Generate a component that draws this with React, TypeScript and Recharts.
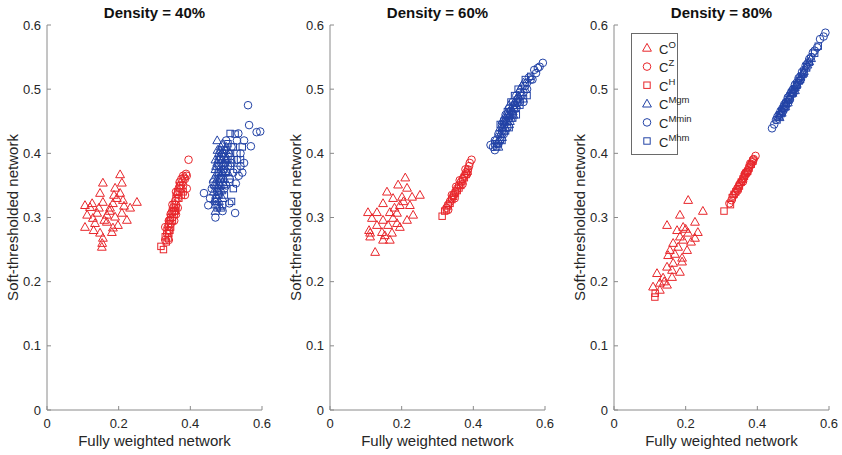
import React from 'react';
import { ScatterChart, Scatter, XAxis, YAxis, Label } from 'recharts';

type Pair = [number, number];

const FONT = '"Liberation Sans", Arial, Helvetica, sans-serif';
const RED = '#e8262b';
const BLUE = '#2343a6';
const AXIS = '#8a8a8a';
const TXT = '#262626';

const xTicks = [0, 0.2, 0.4, 0.6];
const yTicks = [0, 0.1, 0.2, 0.3, 0.4, 0.5, 0.6];
const titles = ['Density = 40%', 'Density = 60%', 'Density = 80%'];
const xLabel = 'Fully weighted network';
const yLabel = 'Soft-thresholded network';
const seriesNames = ['O', 'Z', 'H', 'Mgm', 'Mmin', 'Mhm'];

// ---------- Density = 40% ----------
const d40_O: Pair[] = [
  [0.156, 0.354], [0.209, 0.354], [0.190, 0.346], [0.148, 0.338], [0.204, 0.338], [0.106, 0.319],
  [0.126, 0.322], [0.156, 0.324], [0.184, 0.322], [0.251, 0.324], [0.232, 0.315], [0.176, 0.315],
  [0.112, 0.304], [0.140, 0.307], [0.167, 0.304], [0.209, 0.307], [0.223, 0.296], [0.106, 0.285],
  [0.134, 0.291], [0.167, 0.293], [0.184, 0.284], [0.198, 0.288], [0.148, 0.276], [0.181, 0.277],
  [0.154, 0.260], [0.156, 0.268], [0.128, 0.299], [0.190, 0.301], [0.212, 0.327], [0.195, 0.330],
  [0.204, 0.367], [0.120, 0.316], [0.145, 0.315], [0.175, 0.310], [0.160, 0.296], [0.215, 0.318],
  [0.130, 0.280], [0.187, 0.335], [0.153, 0.254],
];
const d40_Z: Pair[] = [
  [0.330, 0.265], [0.340, 0.280], [0.345, 0.290], [0.350, 0.300], [0.355, 0.310], [0.360, 0.320],
  [0.365, 0.330], [0.370, 0.340], [0.375, 0.345], [0.380, 0.350], [0.385, 0.360], [0.390, 0.365],
  [0.395, 0.390], [0.390, 0.345], [0.385, 0.335], [0.370, 0.355], [0.360, 0.340], [0.350, 0.320],
  [0.345, 0.305], [0.340, 0.295], [0.335, 0.275], [0.330, 0.285], [0.380, 0.365], [0.375, 0.360],
  [0.365, 0.315], [0.355, 0.295], [0.360, 0.305], [0.340, 0.265], [0.338, 0.286], [0.343, 0.296],
  [0.348, 0.308], [0.353, 0.316], [0.358, 0.326], [0.363, 0.336], [0.368, 0.346], [0.373, 0.350],
  [0.378, 0.356], [0.383, 0.362], [0.388, 0.368],
];
const d40_H: Pair[] = [
  [0.318, 0.255], [0.325, 0.250], [0.330, 0.270], [0.335, 0.280], [0.340, 0.290], [0.345, 0.300],
  [0.350, 0.310], [0.355, 0.320], [0.360, 0.330], [0.365, 0.340], [0.370, 0.350], [0.345, 0.285],
  [0.350, 0.295], [0.355, 0.305], [0.360, 0.315], [0.375, 0.335], [0.380, 0.340], [0.340, 0.275],
  [0.333, 0.262], [0.338, 0.268], [0.343, 0.280], [0.358, 0.310], [0.368, 0.330],
];
const d40_Mgm: Pair[] = [
  [0.470, 0.320], [0.475, 0.330], [0.480, 0.340], [0.470, 0.350], [0.475, 0.360], [0.480, 0.370],
  [0.485, 0.380], [0.490, 0.390], [0.480, 0.400], [0.485, 0.410], [0.475, 0.420], [0.495, 0.400],
  [0.490, 0.370], [0.485, 0.350], [0.480, 0.325], [0.470, 0.310], [0.465, 0.340], [0.465, 0.360],
  [0.470, 0.375], [0.475, 0.385], [0.480, 0.395], [0.490, 0.355], [0.495, 0.380], [0.500, 0.390],
  [0.500, 0.410], [0.485, 0.365], [0.480, 0.355], [0.475, 0.345], [0.470, 0.390], [0.490, 0.330],
  [0.495, 0.360], [0.505, 0.370], [0.510, 0.400], [0.490, 0.415], [0.485, 0.315], [0.472, 0.335],
  [0.478, 0.348], [0.482, 0.362], [0.488, 0.372], [0.492, 0.385], [0.478, 0.390], [0.483, 0.405],
  [0.493, 0.395], [0.468, 0.328], [0.473, 0.368], [0.487, 0.342], [0.497, 0.372], [0.503, 0.392],
  [0.498, 0.405], [0.476, 0.405], [0.482, 0.318], [0.467, 0.352], [0.488, 0.400], [0.472, 0.380],
  [0.494, 0.352],
];
const d40_Mmin: Pair[] = [
  [0.438, 0.338], [0.450, 0.319], [0.464, 0.355], [0.455, 0.330], [0.460, 0.345], [0.470, 0.300],
  [0.490, 0.310], [0.509, 0.322], [0.525, 0.307], [0.527, 0.353], [0.520, 0.370], [0.515, 0.385],
  [0.530, 0.390], [0.540, 0.400], [0.550, 0.385], [0.545, 0.370], [0.534, 0.431], [0.530, 0.420],
  [0.550, 0.420], [0.569, 0.411], [0.564, 0.444], [0.561, 0.475], [0.585, 0.433], [0.595, 0.434],
  [0.500, 0.350], [0.505, 0.380], [0.510, 0.360], [0.495, 0.345], [0.485, 0.360], [0.480, 0.380],
  [0.490, 0.400], [0.500, 0.420], [0.515, 0.410], [0.540, 0.380], [0.475, 0.340], [0.535, 0.365],
];
const d40_Mhm: Pair[] = [
  [0.511, 0.431], [0.525, 0.430], [0.520, 0.410], [0.530, 0.400], [0.515, 0.390], [0.505, 0.395],
  [0.500, 0.370], [0.510, 0.355], [0.520, 0.345], [0.515, 0.325], [0.490, 0.320], [0.475, 0.315],
  [0.480, 0.335], [0.495, 0.335], [0.540, 0.390], [0.545, 0.410], [0.530, 0.375], [0.485, 0.390],
  [0.495, 0.405], [0.505, 0.415], [0.470, 0.325], [0.487, 0.360], [0.493, 0.375], [0.498, 0.385],
  [0.478, 0.370], [0.508, 0.400], [0.512, 0.380],
];

// ---------- Density = 60% ----------
const d60_O: Pair[] = [
  [0.190, 0.351], [0.215, 0.346], [0.159, 0.340], [0.229, 0.332], [0.251, 0.335], [0.201, 0.332],
  [0.176, 0.330], [0.148, 0.322], [0.195, 0.319], [0.223, 0.319], [0.106, 0.308], [0.131, 0.308],
  [0.167, 0.308], [0.187, 0.307], [0.232, 0.304], [0.117, 0.299], [0.148, 0.296], [0.176, 0.299],
  [0.215, 0.296], [0.131, 0.288], [0.162, 0.288], [0.195, 0.285], [0.112, 0.276], [0.145, 0.277],
  [0.173, 0.276], [0.148, 0.265], [0.167, 0.265], [0.126, 0.246], [0.153, 0.272], [0.187, 0.291],
  [0.109, 0.280], [0.112, 0.270], [0.210, 0.362], [0.205, 0.325], [0.180, 0.315],
];
const d60_Z: Pair[] = [
  [0.325, 0.315], [0.330, 0.320], [0.335, 0.325], [0.340, 0.330], [0.345, 0.335], [0.350, 0.340],
  [0.355, 0.345], [0.360, 0.350], [0.365, 0.355], [0.370, 0.360], [0.375, 0.365], [0.380, 0.370],
  [0.385, 0.375], [0.390, 0.385], [0.395, 0.390], [0.352, 0.348], [0.348, 0.330], [0.362, 0.358],
  [0.370, 0.352], [0.378, 0.375], [0.383, 0.368], [0.388, 0.380], [0.340, 0.335], [0.330, 0.312],
];
const d60_H: Pair[] = [
  [0.313, 0.302], [0.320, 0.310], [0.325, 0.312], [0.330, 0.318], [0.335, 0.322], [0.340, 0.328],
  [0.345, 0.333], [0.350, 0.338], [0.355, 0.342], [0.360, 0.346], [0.365, 0.350], [0.370, 0.357],
  [0.375, 0.362], [0.380, 0.367], [0.385, 0.372],
];
const d60_Mgm: Pair[] = [
  [0.470, 0.420], [0.475, 0.430], [0.480, 0.440], [0.485, 0.445], [0.490, 0.455], [0.495, 0.460],
  [0.500, 0.465], [0.505, 0.470], [0.510, 0.475], [0.515, 0.480], [0.520, 0.485], [0.525, 0.490],
  [0.530, 0.500], [0.485, 0.435], [0.490, 0.440], [0.495, 0.450], [0.500, 0.445], [0.505, 0.455],
  [0.510, 0.465], [0.480, 0.425], [0.475, 0.440], [0.470, 0.410], [0.465, 0.425], [0.500, 0.475],
  [0.515, 0.470], [0.535, 0.505], [0.540, 0.510], [0.500, 0.460], [0.478, 0.432], [0.483, 0.440],
  [0.488, 0.448], [0.493, 0.452], [0.498, 0.458], [0.503, 0.462], [0.508, 0.468], [0.513, 0.472],
  [0.518, 0.478], [0.523, 0.482], [0.528, 0.488], [0.473, 0.422], [0.482, 0.452], [0.492, 0.462],
  [0.502, 0.450], [0.512, 0.460], [0.520, 0.475], [0.545, 0.500],
];
const d60_Mmin: Pair[] = [
  [0.594, 0.541], [0.580, 0.533], [0.570, 0.530], [0.565, 0.515], [0.555, 0.518], [0.550, 0.500],
  [0.545, 0.505], [0.540, 0.495], [0.535, 0.490], [0.530, 0.480], [0.525, 0.485], [0.520, 0.470],
  [0.515, 0.475], [0.510, 0.460], [0.505, 0.465], [0.500, 0.455], [0.495, 0.440], [0.490, 0.450],
  [0.485, 0.430], [0.480, 0.435], [0.475, 0.420], [0.470, 0.430], [0.465, 0.415], [0.460, 0.420],
  [0.455, 0.410], [0.448, 0.413], [0.460, 0.405], [0.540, 0.480], [0.530, 0.495], [0.520, 0.490],
  [0.470, 0.415], [0.480, 0.445], [0.490, 0.460], [0.500, 0.470], [0.510, 0.480], [0.550, 0.510],
  [0.560, 0.515], [0.575, 0.525], [0.585, 0.535],
];
const d60_Mhm: Pair[] = [
  [0.465, 0.410], [0.470, 0.415], [0.480, 0.420], [0.490, 0.435], [0.500, 0.440], [0.510, 0.455],
  [0.520, 0.460], [0.530, 0.475], [0.540, 0.485], [0.550, 0.490], [0.485, 0.450], [0.495, 0.465],
  [0.505, 0.480], [0.515, 0.490], [0.525, 0.500], [0.545, 0.515], [0.560, 0.520], [0.475, 0.445],
  [0.460, 0.415],
];

// ---------- Density = 80% ----------
const d80_O: Pair[] = [
  [0.207, 0.327], [0.248, 0.310], [0.184, 0.304], [0.148, 0.288], [0.226, 0.293], [0.176, 0.280],
  [0.193, 0.285], [0.234, 0.277], [0.207, 0.276], [0.184, 0.270], [0.226, 0.268], [0.156, 0.249],
  [0.179, 0.254], [0.204, 0.249], [0.151, 0.241], [0.190, 0.237], [0.165, 0.229], [0.148, 0.223],
  [0.190, 0.231], [0.162, 0.218], [0.184, 0.215], [0.120, 0.213], [0.137, 0.206], [0.162, 0.207],
  [0.109, 0.192], [0.128, 0.198], [0.148, 0.195], [0.128, 0.187], [0.193, 0.265], [0.165, 0.260],
  [0.200, 0.282], [0.215, 0.262], [0.170, 0.243], [0.140, 0.200],
];
const d80_Z: Pair[] = [
  [0.322, 0.322], [0.328, 0.327], [0.333, 0.334], [0.338, 0.338], [0.343, 0.344], [0.348, 0.348],
  [0.352, 0.353], [0.357, 0.357], [0.362, 0.362], [0.366, 0.366], [0.370, 0.371], [0.374, 0.374],
  [0.378, 0.379], [0.382, 0.382], [0.386, 0.386], [0.390, 0.391], [0.395, 0.396], [0.360, 0.356],
  [0.345, 0.342], [0.372, 0.370], [0.380, 0.384], [0.388, 0.390], [0.350, 0.351], [0.365, 0.368],
];
const d80_H: Pair[] = [
  [0.307, 0.310], [0.325, 0.320], [0.330, 0.331], [0.335, 0.336], [0.340, 0.340], [0.346, 0.345],
  [0.350, 0.349], [0.355, 0.355], [0.360, 0.360], [0.364, 0.364], [0.368, 0.369], [0.373, 0.372],
  [0.377, 0.377], [0.383, 0.383], [0.388, 0.388], [0.114, 0.176], [0.115, 0.182],
];
const d80_Mgm: Pair[] = [
  [0.460, 0.458], [0.465, 0.462], [0.470, 0.468], [0.475, 0.472], [0.480, 0.478], [0.485, 0.483],
  [0.490, 0.488], [0.495, 0.493], [0.500, 0.498], [0.505, 0.503], [0.510, 0.508], [0.515, 0.513],
  [0.520, 0.518], [0.525, 0.523], [0.530, 0.528], [0.540, 0.538], [0.550, 0.548], [0.475, 0.478],
  [0.485, 0.479], [0.495, 0.499], [0.505, 0.498], [0.462, 0.456], [0.468, 0.463], [0.478, 0.473],
  [0.488, 0.486], [0.498, 0.494], [0.508, 0.506], [0.518, 0.515], [0.528, 0.525], [0.535, 0.533],
  [0.545, 0.543],
];
const d80_Mmin: Pair[] = [
  [0.441, 0.439], [0.447, 0.445], [0.452, 0.452], [0.456, 0.457], [0.460, 0.460], [0.465, 0.466],
  [0.470, 0.470], [0.475, 0.476], [0.480, 0.480], [0.485, 0.487], [0.490, 0.490], [0.495, 0.496],
  [0.500, 0.500], [0.505, 0.507], [0.510, 0.510], [0.515, 0.517], [0.520, 0.520], [0.525, 0.527],
  [0.530, 0.530], [0.535, 0.537], [0.540, 0.540], [0.545, 0.547], [0.550, 0.550], [0.555, 0.557],
  [0.560, 0.560], [0.567, 0.565], [0.575, 0.578], [0.585, 0.582], [0.590, 0.588], [0.470, 0.464],
  [0.480, 0.474], [0.490, 0.483], [0.500, 0.493], [0.510, 0.505], [0.520, 0.514],
];
const d80_Mhm: Pair[] = [
  [0.455, 0.452], [0.462, 0.460], [0.468, 0.465], [0.474, 0.470], [0.480, 0.477], [0.486, 0.484],
  [0.492, 0.490], [0.498, 0.495], [0.504, 0.501], [0.510, 0.507], [0.516, 0.513], [0.523, 0.520],
  [0.530, 0.526], [0.538, 0.535], [0.545, 0.542], [0.560, 0.556], [0.570, 0.567],
];

type Kind = 'tri' | 'circ' | 'sq';
const kinds: Kind[] = ['tri', 'circ', 'sq', 'tri', 'circ', 'sq'];
const colors = [RED, RED, RED, BLUE, BLUE, BLUE];

const panels: Pair[][][] = [
  [d40_O, d40_Z, d40_H, d40_Mgm, d40_Mmin, d40_Mhm],
  [d60_O, d60_Z, d60_H, d60_Mgm, d60_Mmin, d60_Mhm],
  [d80_O, d80_Z, d80_H, d80_Mgm, d80_Mmin, d80_Mhm],
];
const panelLefts = [0, 283, 567];

const toPts = (arr: Pair[]) => arr.map(([x, y]) => ({ x, y }));
const fmt = (v: number) => (v === 0 ? '0' : v.toFixed(1));

function Marker({ cx, cy, kind, color }: { cx: number; cy: number; kind: Kind; color: string }) {
  if (cx == null || cy == null) return null;
  if (kind === 'tri') {
    return (
      <polygon
        points={`${cx},${cy - 4.6} ${cx - 4.4},${cy + 3.2} ${cx + 4.4},${cy + 3.2}`}
        fill="none"
        stroke={color}
        strokeWidth={1}
        strokeLinejoin="miter"
      />
    );
  }
  if (kind === 'circ') return <circle cx={cx} cy={cy} r={3.8} fill="none" stroke={color} strokeWidth={1} />;
  return <rect x={cx - 3.2} y={cy - 3.2} width={6.4} height={6.4} fill="none" stroke={color} strokeWidth={1} />;
}

const BottomTick = (p: any) => (
  <g>
    <line x1={p.x} x2={p.x} y1={p.y} y2={p.y - 4} stroke={AXIS} />
    <text x={p.x} y={p.y + 18} textAnchor="middle" fontSize={13} fill={TXT} fontFamily={FONT}>
      {fmt(p.payload.value)}
    </text>
  </g>
);
const TopTick = (p: any) => <line x1={p.x} x2={p.x} y1={p.y} y2={p.y + 4} stroke={AXIS} />;
const LeftTick = (p: any) => (
  <g>
    <line x1={p.x} x2={p.x + 4} y1={p.y} y2={p.y} stroke={AXIS} />
    <text x={p.x - 6} y={p.y + 4.6} textAnchor="end" fontSize={13} fill={TXT} fontFamily={FONT}>
      {fmt(p.payload.value)}
    </text>
  </g>
);
const RightTick = (p: any) => <line x1={p.x} x2={p.x - 4} y1={p.y} y2={p.y} stroke={AXIS} />;

function LegendBox() {
  const rowH = 18.6;
  return (
    <svg
      width={80}
      height={124}
      style={{ position: 'absolute', left: 64, top: 33, overflow: 'visible' }}
    >
      <rect x={0.5} y={0.5} width={46} height={121} fill="#fff" stroke="#6a6a6a" strokeWidth={1} />
      {seriesNames.map((name, i) => {
        const cy = 15 + i * rowH;
        return (
          <g key={name}>
            <Marker cx={16} cy={cy} kind={kinds[i]} color={colors[i]} />
            <text x={28} y={cy + 5.5} fontSize={13} fill={TXT} fontFamily={FONT}>
              C
              <tspan dy={-6} fontSize={9.5}>
                {name}
              </tspan>
            </text>
          </g>
        );
      })}
    </svg>
  );
}

function Panel({ idx }: { idx: number }) {
  const sets = panels[idx];
  return (
    <div style={{ position: 'absolute', left: panelLefts[idx], top: 0, width: 280, height: 455 }}>
      <div
        style={{
          position: 'absolute',
          left: 47,
          width: 215,
          top: 4,
          textAlign: 'center',
          fontWeight: 'bold',
          fontSize: 15,
          lineHeight: 'normal',
          color: '#111',
          fontFamily: FONT,
          whiteSpace: 'nowrap',
        }}
      >
        {titles[idx]}
      </div>
      <ScatterChart width={280} height={455} margin={{ top: 25, right: 18, bottom: 0, left: 0 }}>
        <XAxis
          xAxisId={0}
          type="number"
          dataKey="x"
          domain={[0, 0.6]}
          ticks={xTicks}
          interval={0}
          height={45}
          tickSize={0}
          tickMargin={0}
          tickLine={false}
          stroke={AXIS}
          tick={BottomTick}
        >
          <Label value={xLabel} position="insideBottom" offset={9.5} fill={TXT} fontSize={15} fontFamily={FONT} />
        </XAxis>
        <XAxis
          xAxisId="top"
          orientation="top"
          type="number"
          dataKey="x"
          domain={[0, 0.6]}
          ticks={xTicks}
          interval={0}
          height={0}
          tickSize={0}
          tickMargin={0}
          tickLine={false}
          stroke={AXIS}
          tick={TopTick}
        />
        <YAxis
          yAxisId={0}
          type="number"
          dataKey="y"
          domain={[0, 0.6]}
          ticks={yTicks}
          interval={0}
          width={47}
          tickSize={0}
          tickMargin={0}
          tickLine={false}
          stroke={AXIS}
          tick={LeftTick}
        >
          <Label
            value={yLabel}
            angle={-90}
            position="insideLeft"
            offset={13}
            fill={TXT}
            fontSize={15}
            fontFamily={FONT}
            style={{ textAnchor: 'middle' }}
          />
        </YAxis>
        <YAxis
          yAxisId="right"
          orientation="right"
          type="number"
          dataKey="y"
          domain={[0, 0.6]}
          ticks={yTicks}
          interval={0}
          width={0}
          tickSize={0}
          tickMargin={0}
          tickLine={false}
          stroke={AXIS}
          tick={RightTick}
        />
        {sets.map((s, i) => (
          <Scatter
            key={seriesNames[i]}
            name={'C' + seriesNames[i]}
            data={toPts(s)}
            xAxisId={0}
            yAxisId={0}
            isAnimationActive={false}
            shape={(props: any) => <Marker cx={props.cx} cy={props.cy} kind={kinds[i]} color={colors[i]} />}
          />
        ))}
      </ScatterChart>
      {idx === 2 && <LegendBox />}
    </div>
  );
}

export default function App() {
  return (
    <div
      style={{
        position: 'absolute',
        left: 0,
        top: 0,
        width: 842,
        height: 455,
        background: '#fff',
        fontFamily: FONT,
        overflow: 'hidden',
      }}
    >
      {[0, 1, 2].map((i) => (
        <Panel key={i} idx={i} />
      ))}
    </div>
  );
}
